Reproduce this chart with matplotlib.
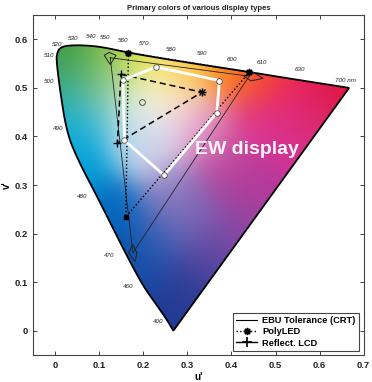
import numpy as np
import matplotlib
matplotlib.use('Agg')
import matplotlib.pyplot as plt
from matplotlib.patches import Polygon
from matplotlib.lines import Line2D
from matplotlib.colors import to_rgb

plt.rcParams['font.family'] = ['Liberation Sans', 'DejaVu Sans']

# ---- data (CIE 1976 u', v') ----
locus_u = [0.268, 0.253, 0.227, 0.200, 0.159, 0.0945, 0.055, 0.0265, 0.0098,
           0.0023, 0.004, 0.0076, 0.015, 0.0265, 0.0567, 0.102, 0.166, 0.253, 0.344,
           0.438, 0.533, 0.667]
locus_v = [0.000, 0.023, 0.057, 0.091, 0.160, 0.277, 0.345, 0.405, 0.500,
           0.559, 0.570, 0.579, 0.584, 0.587, 0.588, 0.585, 0.5725, 0.559, 0.546,
           0.533, 0.519, 0.500]

wl_labels = ['400', '460', '470', '480', '490', '500', '510', '520', '530', '540',
             '550', '560', '570', '580', '590', '600', '610', '630', '700 nm']
wl_label_u = [0.234, 0.166, 0.123, 0.0605, 0.0075, -0.015, -0.015, 0.004, 0.040, 0.081,
              0.114, 0.155, 0.202, 0.262, 0.333, 0.402, 0.469, 0.556, 0.658]
wl_label_v = [0.019, 0.091, 0.155, 0.2757, 0.4165, 0.513, 0.567, 0.590, 0.601, 0.605,
              0.603, 0.597, 0.591, 0.579, 0.571, 0.559, 0.552, 0.538, 0.515]

ebu_u = [0.1247, 0.440, 0.176]
ebu_v = [0.562, 0.524, 0.160]
ebu_tol_u = [[0.111, 0.1224, 0.138, 0.1247],
             [0.4286, 0.4467, 0.4717, 0.4444],
             [0.1757, 0.1853, 0.1814, 0.1662]]
ebu_tol_v = [[0.567, 0.573, 0.567, 0.548],
             [0.5237, 0.533, 0.5196, 0.5144],
             [0.1773, 0.1602, 0.1423, 0.1602]]

polyled_u = [0.166, 0.4406, 0.160]
polyled_v = [0.5725, 0.5326, 0.234]

lcd_u = [0.149, 0.333, 0.141]
lcd_v = [0.528, 0.491, 0.386]

ew_u = [0.1535, 0.229, 0.3726, 0.3666, 0.247, 0.157]
ew_v = [0.516, 0.543, 0.515, 0.449, 0.320, 0.392]

white_u = [0.1965]
white_v = [0.471]

legend_labels = ['EBU Tolerance (CRT)', 'PolyLED', 'Reflect. LCD']
xticks = [0, 0.1, 0.2, 0.3, 0.4, 0.5, 0.6, 0.7]
yticks = [0, 0.1, 0.2, 0.3, 0.4, 0.5, 0.6]

# colour anchors of the background fill (style)
fill_anchor_u = [0.200, 0.250, 0.310, 0.170, 0.140, 0.220, 0.030, 0.060, 0.120, 0.200,
                 0.300, 0.400, 0.480, 0.620, 0.550, 0.460, 0.400, 0.450, 0.350, 0.300,
                 0.260, 0.200, 0.130, 0.070, 0.040, 0.020, 0.090, 0.260, 0.320, 0.090,
                 0.150, 0.520, 0.360, 0.580, 0.420, 0.240]
fill_anchor_v = [0.465, 0.510, 0.440, 0.400, 0.500, 0.380, 0.575, 0.540, 0.570, 0.560,
                 0.548, 0.532, 0.518, 0.492, 0.470, 0.430, 0.330, 0.300, 0.150, 0.080,
                 0.030, 0.130, 0.250, 0.350, 0.420, 0.490, 0.450, 0.280, 0.240, 0.520,
                 0.180, 0.400, 0.400, 0.440, 0.220, 0.200]
fill_anchor_c = ['#f6f6f8', '#fbeed0', '#efd2e2', '#b8dcec', '#d4e8c4', '#d8d0e8',
                 '#3c8c3c', '#4ea050', '#9cc43a', '#e2dc30', '#f4c030', '#f08028',
                 '#e84a30', '#d41c40', '#e02870', '#d83c8c', '#b04c98', '#b04098',
                 '#5c4a9a', '#34408e', '#243c8c', '#1c4c9c', '#0c6cb8', '#0898cc',
                 '#10a8d4', '#34a8a8', '#60bcd0', '#9888c0', '#8068b0', '#70b888',
                 '#1058aa', '#cc3c98', '#d070b0', '#cc3c78', '#8a4c9e', '#4a64b0']


def chaikin(pts, n=3):
    pts = np.asarray(pts, float)
    for _ in range(n):
        q = 0.75 * pts[:-1] + 0.25 * pts[1:]
        r = 0.25 * pts[:-1] + 0.75 * pts[1:]
        mid = np.empty((2 * len(q), 2))
        mid[0::2] = q
        mid[1::2] = r
        pts = np.vstack([pts[:1], mid, pts[-1:]])
    return pts


def fill_colors(U, V, sigma=0.048):
    au = np.array(fill_anchor_u)[:, None, None]
    av = np.array(fill_anchor_v)[:, None, None]
    ac = np.array([to_rgb(c) for c in fill_anchor_c])
    w = np.exp(-((U[None] - au) ** 2 + (V[None] - av) ** 2) / (2 * sigma ** 2)) + 1e-30
    w = w / w.sum(axis=0, keepdims=True)
    rgb = np.einsum('kij,kc->ijc', w, ac)
    m = rgb.mean(axis=-1, keepdims=True)
    return np.clip(m + 1.12 * (rgb - m), 0, 1)


fig = plt.figure(figsize=(3.72, 3.82), dpi=100)
ax = fig.add_axes([0.0895, 0.0707, 0.888, 0.890])
ax.set_xlim(-0.05, 0.7)
ax.set_ylim(-0.05, 0.65)

uu = np.linspace(-0.05, 0.7, 300)
vv = np.linspace(-0.05, 0.65, 300)
U, V = np.meshgrid(uu, vv)
img = fill_colors(U, V)
im = ax.imshow(img, origin='lower', extent=(-0.05, 0.7, -0.05, 0.65),
               aspect='auto', interpolation='bilinear', zorder=0)
curve = chaikin(np.column_stack([locus_u, locus_v]), 4)
poly = Polygon(curve, closed=True, facecolor='none', edgecolor='black',
               lw=1.3, zorder=2, joinstyle='miter')
ax.add_patch(poly)
im.set_clip_path(poly)

for lab, lu, lv in zip(wl_labels, wl_label_u, wl_label_v):
    ax.text(lu, lv, lab, fontsize=4.5, ha='center', va='center', color='#222222',
            style='italic')

# EBU tolerance triangle
ax.plot(ebu_u + ebu_u[:1], ebu_v + ebu_v[:1], color='#222222', lw=0.6, zorder=4)
for tu, tv in zip(ebu_tol_u, ebu_tol_v):
    ax.add_patch(Polygon(np.column_stack([tu, tv]), closed=True, facecolor='none',
                         edgecolor='#222222', lw=0.7, zorder=4))

# PolyLED
ax.plot(polyled_u + polyled_u[:1], polyled_v + polyled_v[:1], color='black',
        lw=1.0, ls=(0, (1, 1.6)), zorder=4)
ax.plot(polyled_u[:2], polyled_v[:2], ls='none', marker=(8, 1, 0), ms=5,
        color='black', zorder=5)
ax.plot(polyled_u[2:], polyled_v[2:], ls='none', marker='s', ms=3.5,
        color='black', zorder=5)

# Reflective LCD
ax.plot(lcd_u + lcd_u[:1], lcd_v + lcd_v[:1], color='black', lw=1.1,
        ls=(0, (4, 2.5)), zorder=4)
ax.plot(lcd_u, lcd_v, ls='none', marker='+', ms=6, mew=1.0, color='black', zorder=5)
ax.plot(lcd_u[1:2], lcd_v[1:2], ls='none', marker='x', ms=4.5, mew=1.0,
        color='black', zorder=5)

# EW display
ax.plot(ew_u + ew_u[:1], ew_v + ew_v[:1], color='white', lw=2.0, zorder=6)
ax.plot(ew_u, ew_v, ls='none', marker='o', ms=4, mfc='white', mec='#333333',
        mew=0.5, zorder=7)
ax.plot(white_u, white_v, ls='none', marker='o', ms=4.2, mfc='none', mec='#555555',
        mew=0.7, zorder=7)

ax.text(0.434, 0.364, 'EW display', fontsize=14, fontweight='bold', color='#fbf4fb',
        ha='center', va='baseline', zorder=8)

handles = [Line2D([], [], color='black', lw=0.8),
           Line2D([], [], color='black', lw=1.0, ls=(0, (1, 1.6)), marker=(8, 1, 0), ms=5),
           Line2D([], [], color='black', lw=1.0, marker='+', ms=7, mew=1.2)]
leg = ax.legend(handles, legend_labels, loc='lower right', bbox_to_anchor=(0.986, 0.012),
                borderaxespad=0, fancybox=False, edgecolor='#444444', framealpha=1,
                prop={'size': 6.7, 'weight': 'bold'}, handlelength=2.2,
                handletextpad=0.6, labelspacing=0.25, borderpad=0.35)
leg.get_frame().set_linewidth(0.8)
leg.set_zorder(10)

ax.set_xticks(xticks)
ax.set_yticks(yticks)
ax.set_xticklabels([('%g' % t) for t in xticks], fontsize=6.8, fontweight='bold')
ax.set_yticklabels([('%g' % t) for t in yticks], fontsize=6.8, fontweight='bold')
ax.tick_params(direction='in', length=3, width=0.6, top=True, right=True, pad=4,
               colors='#222222')
for s in ax.spines.values():
    s.set_linewidth(0.8)
    s.set_color('#444444')
ax.set_xlabel("u'", fontsize=7, fontweight='bold', labelpad=2)
ax.set_ylabel("v'", fontsize=7, fontweight='bold', labelpad=2)
ax.set_title('Primary colors of various display types', fontsize=5.6,
             fontweight='bold', pad=3.5, color='#222222')

fig.savefig('out.png', dpi=100, facecolor='white')
